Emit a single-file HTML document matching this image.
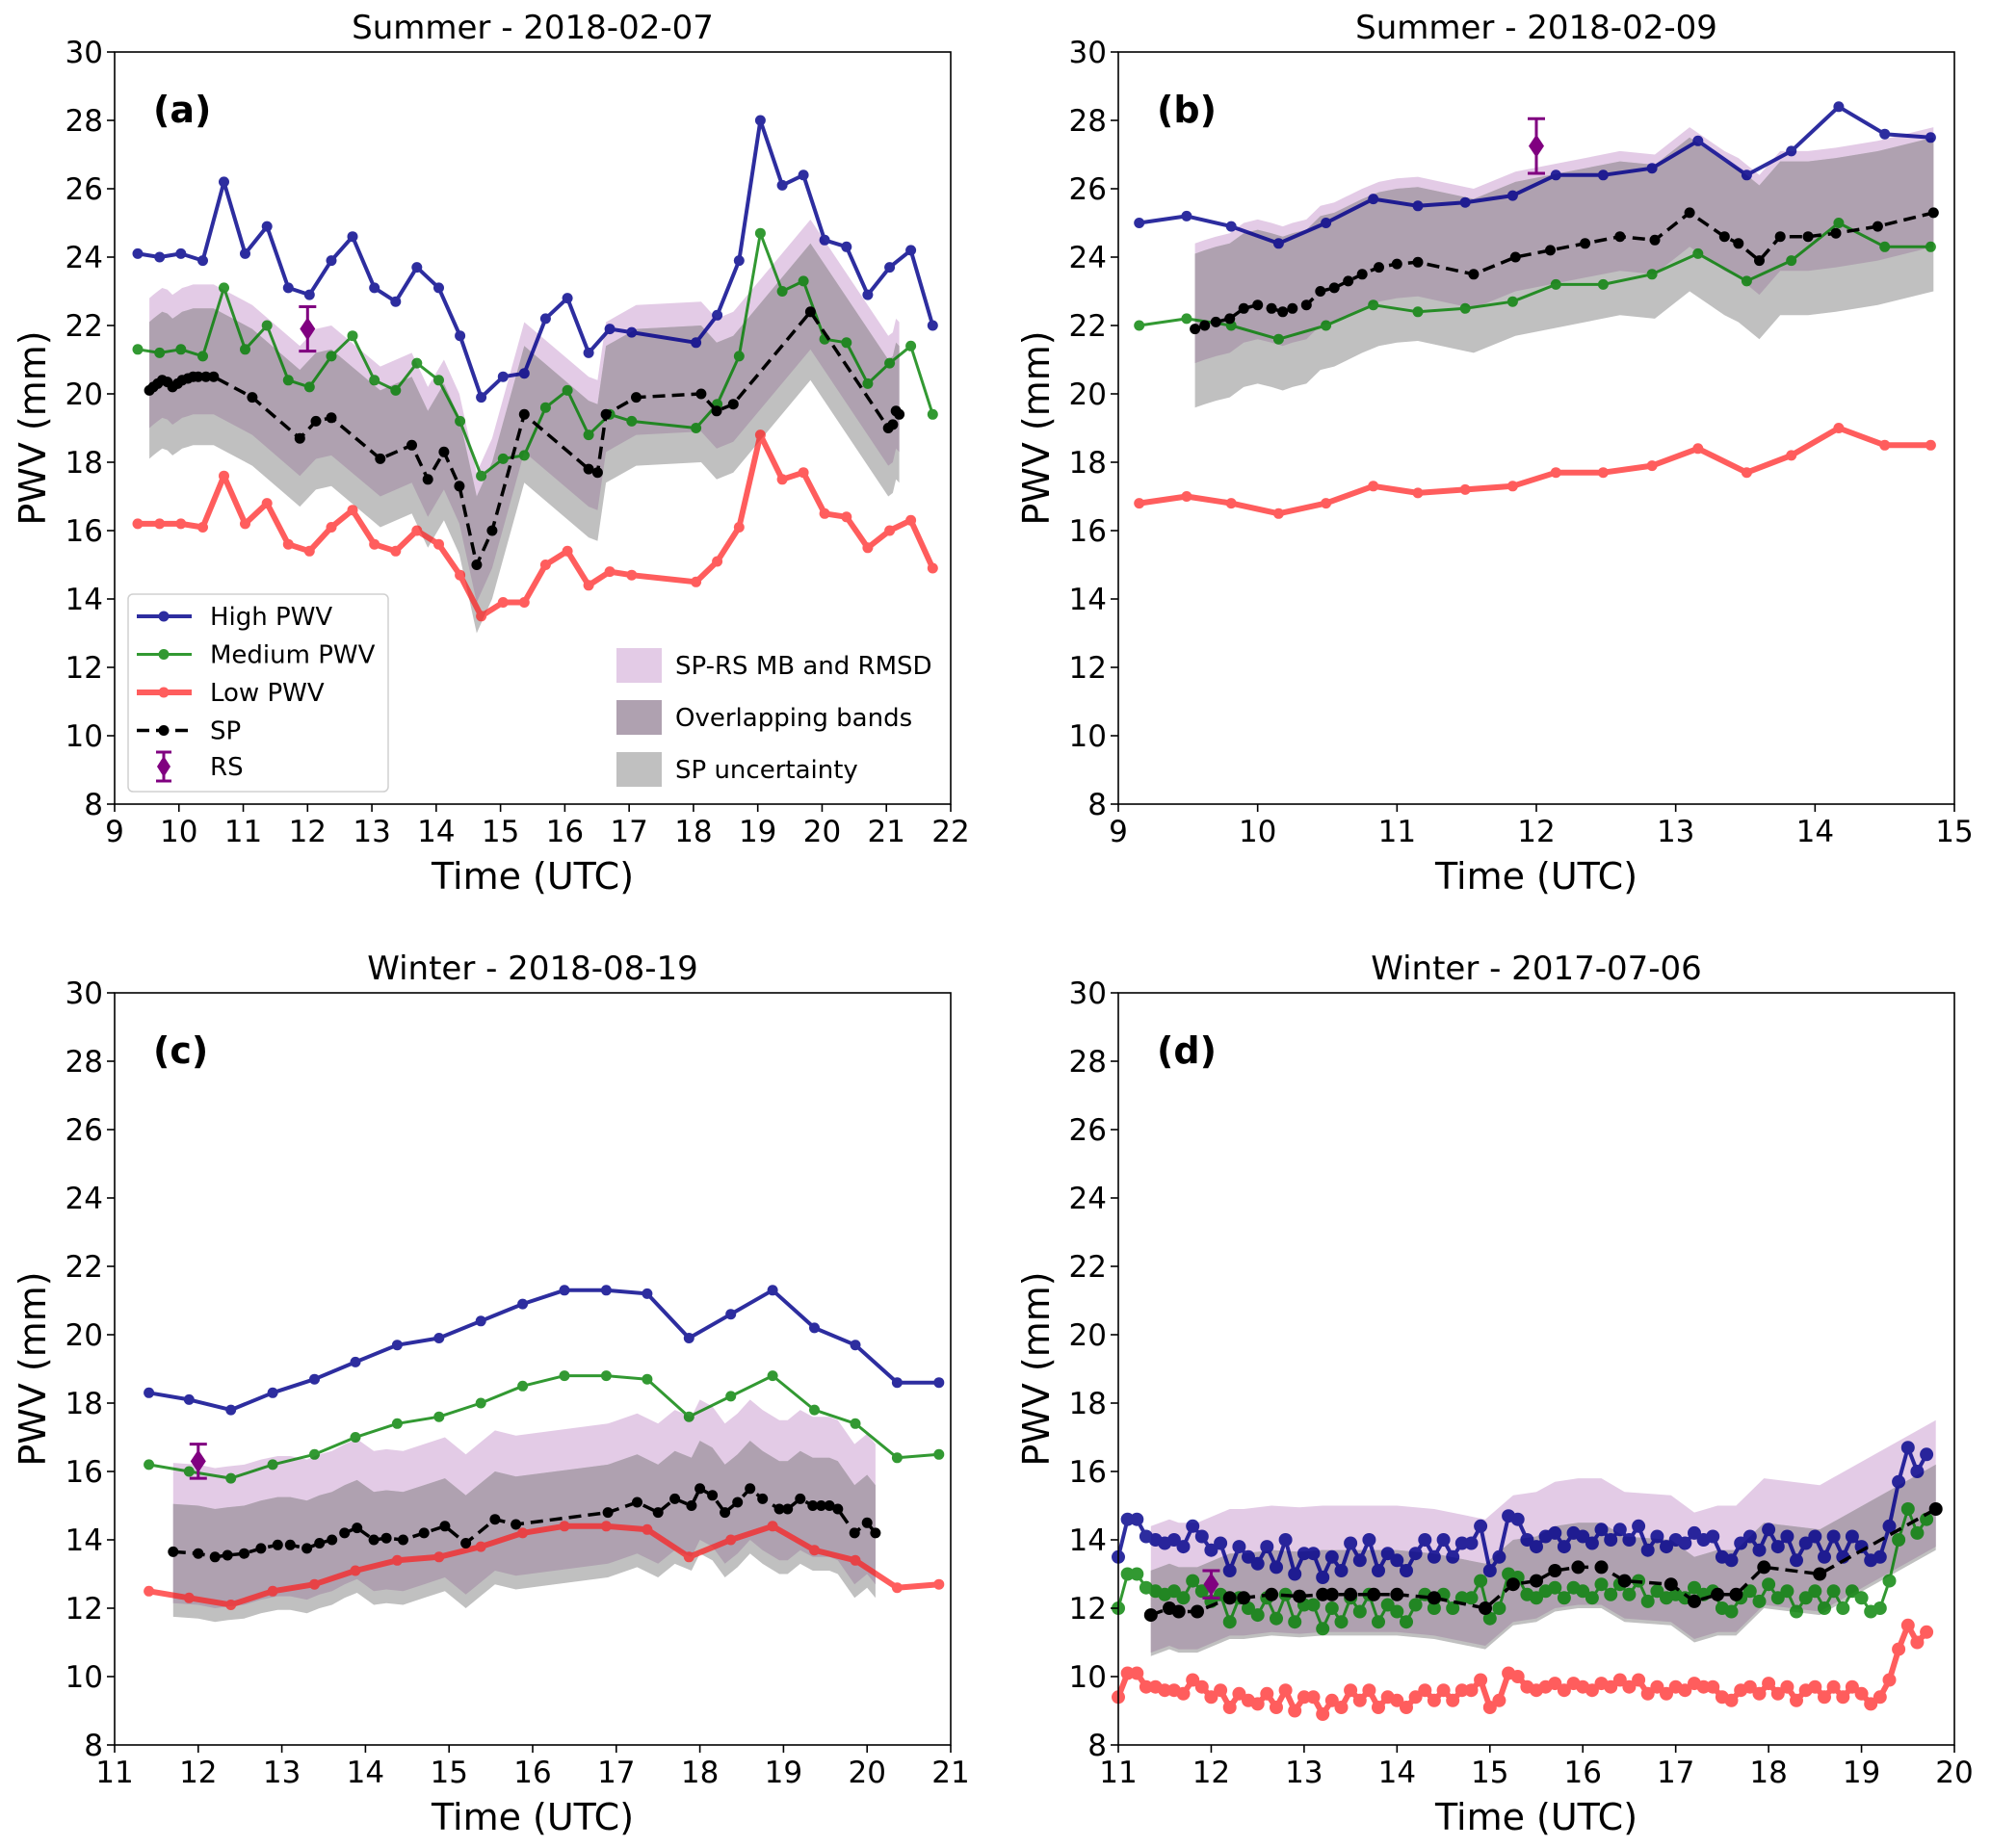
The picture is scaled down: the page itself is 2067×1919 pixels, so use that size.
<!DOCTYPE html>
<html><head><meta charset="utf-8">
<style>
html,body{margin:0;padding:0;background:#fff;}
svg{display:block;font-family:"DejaVu Sans","Liberation Sans",sans-serif;}
</style></head>
<body>
<svg id="fig" width="2067" height="1919" viewBox="0 0 2067 1919" xmlns="http://www.w3.org/2000/svg"></svg>
<script>
// ---------- Panel (a) data ----------
const aTimes=[9.36,9.7,10.03,10.37,10.7,11.03,11.37,11.7,12.03,12.37,12.7,13.04,13.37,13.7,14.04,14.37,14.7,15.04,15.37,15.7,16.04,16.37,16.7,17.04,18.04,18.37,18.71,19.04,19.38,19.71,20.04,20.38,20.71,21.05,21.38,21.72];
const aHigh=[24.1,24.0,24.1,23.9,26.2,24.1,24.9,23.1,22.9,23.9,24.6,23.1,22.7,23.7,23.1,21.7,19.9,20.5,20.6,22.2,22.8,21.2,21.9,21.8,21.5,22.3,23.9,28.0,26.1,26.4,24.5,24.3,22.9,23.7,24.2,22.0];
const aMed=[21.3,21.2,21.3,21.1,23.1,21.3,22.0,20.4,20.2,21.1,21.7,20.4,20.1,20.9,20.4,19.2,17.6,18.1,18.2,19.6,20.1,18.8,19.4,19.2,19.0,19.7,21.1,24.7,23.0,23.3,21.6,21.5,20.3,20.9,21.4,19.4];
const aLow=[16.2,16.2,16.2,16.1,17.6,16.2,16.8,15.6,15.4,16.1,16.6,15.6,15.4,16.0,15.6,14.7,13.5,13.9,13.9,15.0,15.4,14.4,14.8,14.7,14.5,15.1,16.1,18.8,17.5,17.7,16.5,16.4,15.5,16.0,16.3,14.9];
const aSpTimes=[9.54,9.6,9.67,9.74,9.82,9.9,9.98,10.05,10.14,10.22,10.3,10.42,10.54,11.14,11.88,12.13,12.37,13.13,13.62,13.87,14.12,14.36,14.63,14.87,15.37,16.37,16.51,16.64,17.11,18.12,18.36,18.62,19.82,21.03,21.1,21.15,21.2];
const aSp=[20.1,20.2,20.3,20.4,20.35,20.2,20.3,20.4,20.45,20.5,20.5,20.5,20.5,19.9,18.7,19.2,19.3,18.1,18.5,17.5,18.3,17.3,15.0,16.0,19.4,17.8,17.7,19.4,19.9,20.0,19.5,19.7,22.4,19.0,19.1,19.5,19.4];
const aRs=[12.0,21.9,0.65];
const aBand=[-1.1,2.7,-2.0,2.0]; // purple lo/hi, gray lo/hi offsets

// ---------- Panel (b) data ----------
const bTimes=[9.15,9.49,9.81,10.15,10.49,10.83,11.15,11.49,11.83,12.14,12.48,12.83,13.16,13.51,13.83,14.17,14.5,14.83];
const bHigh=[25.0,25.2,24.9,24.4,25.0,25.7,25.5,25.6,25.8,26.4,26.4,26.6,27.4,26.4,27.1,28.4,27.6,27.5];
const bMed=[22.0,22.2,22.0,21.6,22.0,22.6,22.4,22.5,22.7,23.2,23.2,23.5,24.1,23.3,23.9,25.0,24.3,24.3];
const bLow=[16.8,17.0,16.8,16.5,16.8,17.3,17.1,17.2,17.3,17.7,17.7,17.9,18.4,17.7,18.2,19.0,18.5,18.5];
const bSpTimes=[9.55,9.62,9.7,9.8,9.9,10.0,10.1,10.18,10.25,10.35,10.45,10.55,10.65,10.75,10.87,11.0,11.15,11.55,11.85,12.1,12.35,12.6,12.85,13.1,13.35,13.45,13.6,13.75,13.95,14.15,14.45,14.85];
const bSp=[21.9,22.0,22.1,22.2,22.5,22.6,22.5,22.4,22.5,22.6,23.0,23.1,23.3,23.5,23.7,23.8,23.85,23.5,24.0,24.2,24.4,24.6,24.5,25.3,24.6,24.4,23.9,24.6,24.6,24.7,24.9,25.3];
const bRs=[12.0,27.25,0.8];
const bBand=[-1.0,2.5,-2.3,2.2];

// ---------- Panel (c) data ----------
const cTimes=[11.41,11.89,12.39,12.89,13.39,13.88,14.38,14.88,15.38,15.88,16.38,16.88,17.37,17.87,18.37,18.87,19.37,19.86,20.36,20.86];
const cHigh=[18.3,18.1,17.8,18.3,18.7,19.2,19.7,19.9,20.4,20.9,21.3,21.3,21.2,19.9,20.6,21.3,20.2,19.7,18.6,18.6];
const cMed=[16.2,16.0,15.8,16.2,16.5,17.0,17.4,17.6,18.0,18.5,18.8,18.8,18.7,17.6,18.2,18.8,17.8,17.4,16.4,16.5];
const cLow=[12.5,12.3,12.1,12.5,12.7,13.1,13.4,13.5,13.8,14.2,14.4,14.4,14.3,13.5,14.0,14.4,13.7,13.4,12.6,12.7];
const cSpTimes=[11.7,12.0,12.2,12.35,12.55,12.75,12.95,13.1,13.3,13.45,13.6,13.75,13.9,14.1,14.25,14.45,14.7,14.95,15.2,15.55,15.8,16.9,17.25,17.5,17.7,17.9,18.0,18.15,18.3,18.45,18.6,18.75,18.95,19.05,19.2,19.35,19.45,19.55,19.65,19.85,20.0,20.1];
const cSp=[13.65,13.6,13.5,13.55,13.6,13.75,13.85,13.85,13.75,13.9,14.0,14.2,14.35,14.0,14.05,14.0,14.2,14.4,13.9,14.6,14.45,14.8,15.1,14.8,15.2,15.0,15.5,15.3,14.8,15.1,15.5,15.2,14.9,14.9,15.2,15.0,15.0,15.0,14.9,14.2,14.5,14.2];
const cRs=[12.0,16.3,0.5];
const cBand=[-1.5,2.6,-1.9,1.4];

// ---------- Panel (d) data ----------
const dTimes=[11.0,11.1,11.2,11.3,11.4,11.5,11.6,11.7,11.8,11.9,12.0,12.1,12.2,12.3,12.4,12.5,12.6,12.7,12.8,12.9,13.0,13.1,13.2,13.3,13.4,13.5,13.6,13.7,13.8,13.9,14.0,14.1,14.2,14.3,14.4,14.5,14.6,14.7,14.8,14.9,15.0,15.1,15.2,15.3,15.4,15.5,15.6,15.7,15.8,15.9,16.0,16.1,16.2,16.3,16.4,16.5,16.6,16.7,16.8,16.9,17.0,17.1,17.2,17.3,17.4,17.5,17.6,17.7,17.8,17.9,18.0,18.1,18.2,18.3,18.4,18.5,18.6,18.7,18.8,18.9,19.0,19.1,19.2,19.3,19.4,19.5,19.6,19.7];
const dHigh=[13.5,14.6,14.6,14.1,14.0,13.9,14.0,13.8,14.4,14.1,13.7,13.9,13.1,13.8,13.5,13.3,13.8,13.2,14.0,13.0,13.6,13.6,12.9,13.5,13.1,13.9,13.4,14.0,13.1,13.6,13.4,13.1,13.6,14.0,13.5,14.0,13.5,13.9,13.9,14.4,13.1,13.5,14.7,14.6,14.0,13.8,14.1,14.2,13.8,14.2,14.1,13.9,14.3,14.0,14.3,14.0,14.4,13.7,14.1,13.8,14.0,13.9,14.2,14.0,14.1,13.5,13.4,13.9,14.1,13.7,14.3,13.8,14.1,13.4,13.9,14.1,13.5,14.1,13.5,14.1,13.8,13.4,13.5,14.4,15.7,16.7,16.0,16.5];
const dMed=[12.0,13.0,13.0,12.6,12.5,12.4,12.5,12.3,12.8,12.5,12.2,12.4,11.6,12.3,12.0,11.8,12.3,11.7,12.4,11.6,12.1,12.1,11.4,12.0,11.6,12.3,11.9,12.4,11.6,12.1,11.9,11.6,12.1,12.4,12.0,12.4,12.0,12.3,12.3,12.8,11.7,12.0,13.0,12.9,12.4,12.3,12.5,12.6,12.3,12.6,12.5,12.3,12.7,12.4,12.7,12.4,12.8,12.2,12.5,12.3,12.4,12.3,12.6,12.4,12.5,12.0,11.9,12.3,12.5,12.2,12.7,12.3,12.5,11.9,12.3,12.5,12.0,12.5,12.0,12.5,12.3,11.9,12.0,12.8,14.0,14.9,14.2,14.6];
const dLow=[9.4,10.1,10.1,9.7,9.7,9.6,9.6,9.5,9.9,9.7,9.4,9.6,9.1,9.5,9.3,9.2,9.5,9.1,9.6,9.0,9.4,9.4,8.9,9.3,9.1,9.6,9.3,9.6,9.1,9.4,9.3,9.1,9.4,9.6,9.3,9.6,9.3,9.6,9.6,9.9,9.1,9.3,10.1,10.0,9.7,9.6,9.7,9.8,9.6,9.8,9.7,9.6,9.8,9.7,9.9,9.7,9.9,9.5,9.7,9.5,9.7,9.6,9.8,9.7,9.7,9.4,9.3,9.6,9.7,9.5,9.8,9.5,9.7,9.3,9.6,9.7,9.4,9.7,9.4,9.7,9.5,9.2,9.4,9.9,10.8,11.5,11.0,11.3];
const dSpTimes=[11.35,11.55,11.65,11.85,12.2,12.35,12.65,12.95,13.2,13.3,13.5,13.75,14.0,14.4,14.95,15.25,15.5,15.7,15.95,16.2,16.45,16.95,17.2,17.45,17.65,17.95,18.55,19.8];
const dSp=[11.8,12.0,11.9,11.9,12.3,12.3,12.4,12.35,12.4,12.4,12.4,12.4,12.4,12.3,12.0,12.7,12.8,13.1,13.2,13.2,12.8,12.7,12.2,12.4,12.4,13.2,13.0,14.9];
const dRs=[12.0,12.7,0.4];
const dBand=[-1.1,2.6,-1.2,1.3];

const yTicks=[8,10,12,14,16,18,20,22,24,26,28,30];
const aXTicks=[9,10,11,12,13,14,15,16,17,18,19,20,21,22];
const bXTicks=[9,10,11,12,13,14,15];
const cXTicks=[11,12,13,14,15,16,17,18,19,20,21];
const dXTicks=[11,12,13,14,15,16,17,18,19,20];

const NS='http://www.w3.org/2000/svg';
const svg=document.getElementById('fig');
function mk(tag,attrs,parent){const e=document.createElementNS(NS,tag);for(const k in attrs)e.setAttribute(k,attrs[k]);(parent||svg).appendChild(e);return e;}

const panels=[
 {id:'a',L:119,T:54,title:'Summer - 2018-02-07',xmin:9,xmax:22,xt:aXTicks,t:aTimes,hi:aHigh,me:aMed,lo:aLow,st:aSpTimes,sp:aSp,rs:aRs,band:aBand,ms:5.5},
 {id:'b',L:1161,T:54,title:'Summer - 2018-02-09',xmin:9,xmax:15,xt:bXTicks,t:bTimes,hi:bHigh,me:bMed,lo:bLow,st:bSpTimes,sp:bSp,rs:bRs,band:bBand,ms:5.5},
 {id:'c',L:119,T:1031,title:'Winter - 2018-08-19',xmin:11,xmax:21,xt:cXTicks,t:cTimes,hi:cHigh,me:cMed,lo:cLow,st:cSpTimes,sp:cSp,rs:cRs,band:cBand,ms:5.5},
 {id:'d',L:1161,T:1031,title:'Winter - 2017-07-06',xmin:11,xmax:20,xt:dXTicks,t:dTimes,hi:dHigh,me:dMed,lo:dLow,st:dSpTimes,sp:dSp,rs:dRs,band:dBand,ms:7}
];
const W=868,H=781;

panels.forEach(p=>{
  const g=mk('g',{});
  
  
  const X=v=>p.L+(v-p.xmin)/(p.xmax-p.xmin)*W;
  const Y=v=>p.T+H-(v-8)/22*H;
  const band=(lo,hi,fill,name)=>{
    let d='';
    p.st.forEach((t,i)=>{d+=(i?'L':'M')+X(t).toFixed(1)+','+Y(p.sp[i]+hi).toFixed(1);});
    for(let i=p.st.length-1;i>=0;i--){d+='L'+X(p.st[i]).toFixed(1)+','+Y(p.sp[i]+lo).toFixed(1);}
    const e=mk('path',{d:d+'Z',fill:fill,stroke:'none'},g);
    
    
  };
  band(p.band[0],p.band[1],'#e3cbe6','band-sp-rs-mb-rmsd');
  band(p.band[2],p.band[3],'#c0c0c0','band-sp-uncertainty');
  {
    let d='';
    p.st.forEach((t,i)=>{d+=(i?'L':'M')+X(t).toFixed(1)+','+Y(p.sp[i]+Math.min(p.band[1],p.band[3])).toFixed(1);});
    for(let i=p.st.length-1;i>=0;i--){d+='L'+X(p.st[i]).toFixed(1)+','+Y(p.sp[i]+Math.max(p.band[0],p.band[2])).toFixed(1);}
    const e=mk('path',{d:d+'Z',fill:'#afa1b0',stroke:'none'},g);
    
    
  }
  const series=(ts,vs,color,lw,op,name,dash)=>{
    const sg=mk('g',{opacity:op},g);
    
    
    const pts=ts.map((t,i)=>X(t).toFixed(1)+','+Y(vs[i]).toFixed(1)).join(' ');
    const pl=mk('polyline',{points:pts,fill:'none',stroke:color,'stroke-width':lw,'stroke-linejoin':'round'},sg);
    if(dash)pl.setAttribute('stroke-dasharray',dash);
    ts.forEach((t,i)=>{
      const c=mk('circle',{cx:X(t).toFixed(1),cy:Y(vs[i]).toFixed(1),r:p.ms,fill:color},sg);
      
      
    });
  };
  series(p.t,p.hi,'#00008b',4,0.82,'high-pwv-line');
  series(p.t,p.me,'#008000',3,0.8,'medium-pwv-line');
  series(p.t,p.lo,'#ff1a1a',6,0.7,'low-pwv-line');
  series(p.st,p.sp,'#000000',3.5,1,'sp-line','13,7');
  {
    const rg=mk('g',{},g);
    
    
    const x=X(p.rs[0]),y=Y(p.rs[1]),y1=Y(p.rs[1]+p.rs[2]),y2=Y(p.rs[1]-p.rs[2]);
    mk('line',{x1:x,y1:y1,x2:x,y2:y2,stroke:'#800080','stroke-width':3},rg);
    mk('line',{x1:x-9,y1:y1,x2:x+9,y2:y1,stroke:'#800080','stroke-width':3},rg);
    mk('line',{x1:x-9,y1:y2,x2:x+9,y2:y2,stroke:'#800080','stroke-width':3},rg);
    mk('path',{d:`M${x},${y-12}L${x+8},${y}L${x},${y+12}L${x-8},${y}Z`,fill:'#800080'},rg);
  }
  const fr=mk('rect',{x:p.L,y:p.T,width:W,height:H,fill:'none',stroke:'#000','stroke-width':1.6},g);
  
  
  yTicks.forEach(v=>{
    mk('line',{x1:p.L-8,y1:Y(v),x2:p.L,y2:Y(v),stroke:'#000','stroke-width':1.6},g);
    const t=mk('text',{x:p.L-12,y:Y(v)+11,'text-anchor':'end','font-size':31,fill:'#000'},g);
    t.textContent=v;
    
    
  });
  p.xt.forEach(v=>{
    mk('line',{x1:X(v),y1:p.T+H,x2:X(v),y2:p.T+H+8,stroke:'#000','stroke-width':1.6},g);
    const t=mk('text',{x:X(v),y:p.T+H+39,'text-anchor':'middle','font-size':31,fill:'#000'},g);
    t.textContent=v;
    
    
  });
  const tt=mk('text',{x:p.L+W/2,y:p.T-14,'text-anchor':'middle','font-size':34,fill:'#000'},g);
  tt.textContent=p.title;
  
  
  const xl=mk('text',{x:p.L+W/2,y:p.T+H+88,'text-anchor':'middle','font-size':38,fill:'#000'},g);
  xl.textContent='Time (UTC)';
  
  
  const yl=mk('text',{x:0,y:0,'text-anchor':'middle','font-size':38,fill:'#000',transform:`translate(${p.L-72},${p.T+H/2}) rotate(-90)`},g);
  yl.textContent='PWV (mm)';
  
  
  const pl=mk('text',{x:p.L+40,y:p.T+73,'font-size':38,'font-weight':'bold',fill:'#000'},g);
  pl.textContent='('+p.id+')';
  
  
});

(function(){
  const lg=mk('g',{});
  
  
  mk('rect',{x:133,y:617,width:270,height:205,rx:5,fill:'#fff','fill-opacity':0.8,stroke:'#d0d0d0','stroke-width':1.5},lg);
  const items=[['High PWV','#00008b',4,0.82,null],['Medium PWV','#008000',3,0.8,null],['Low PWV','#ff1a1a',6,0.7,null],['SP','#000',3.5,1,'13,7']];
  items.forEach((it,i)=>{
    const y=640+i*39.5;
    const eg=mk('g',{opacity:it[3]},lg);
    
    
    const l=mk('line',{x1:142,y1:y,x2:199,y2:y,stroke:it[1],'stroke-width':it[2]},eg);
    if(it[4])l.setAttribute('stroke-dasharray',it[4]);
    mk('circle',{cx:170,cy:y,r:5.5,fill:it[1]},eg);
    const t=mk('text',{x:218,y:y+9,'font-size':26,fill:'#000'},lg);
    t.textContent=it[0];
  });
  const y=796,x=170;
  mk('line',{x1:x,y1:y-15,x2:x,y2:y+15,stroke:'#800080','stroke-width':3},lg);
  mk('line',{x1:x-8,y1:y-15,x2:x+8,y2:y-15,stroke:'#800080','stroke-width':3},lg);
  mk('line',{x1:x-8,y1:y+15,x2:x+8,y2:y+15,stroke:'#800080','stroke-width':3},lg);
  mk('path',{d:`M${x},${y-11}L${x+7},${y}L${x},${y+11}L${x-7},${y}Z`,fill:'#800080'},lg);
  const rt=mk('text',{x:218,y:y+9,'font-size':26,fill:'#000'},lg);
  rt.textContent='RS';

  const bg=mk('g',{});
  
  
  [['SP-RS MB and RMSD','#e3cbe6',673],['Overlapping bands','#afa1b0',727],['SP uncertainty','#c0c0c0',781]].forEach(b=>{
    mk('rect',{x:640,y:b[2],width:47,height:36,fill:b[1]},bg);
    const t=mk('text',{x:701,y:b[2]+27,'font-size':26,fill:'#000'},bg);
    t.textContent=b[0];
  });
})();
</script>
</body></html>
